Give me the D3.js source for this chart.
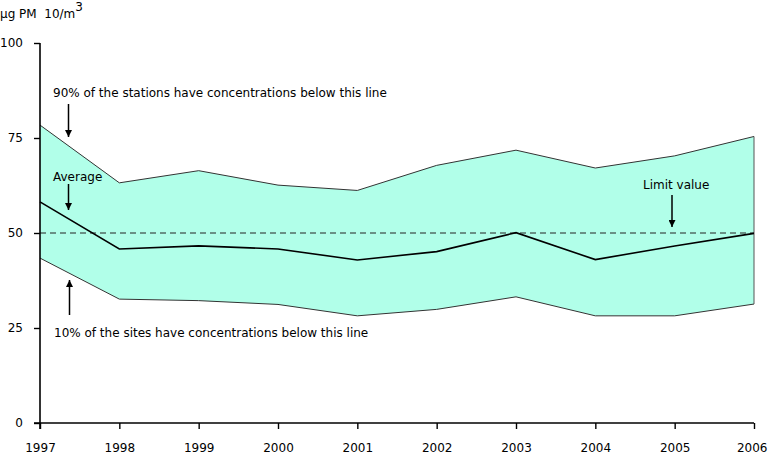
<!DOCTYPE html>
<html>
<head>
<meta charset="utf-8">
<script src="https://cdn.jsdelivr.net/npm/d3@7"></script>
<style>
  html, body { margin: 0; padding: 0; background: #fff; }
  svg { display: block; }
  text { font-family: "DejaVu Sans", Verdana, sans-serif; font-size: 12px; fill: #000; }
</style>
</head>
<body>
<svg id="chart" width="768" height="456"></svg>
<script>
const years = [1997, 1998, 1999, 2000, 2001, 2002, 2003, 2004, 2005, 2006];
const p90 = [78.4, 63.2, 66.4, 62.6, 61.2, 67.8, 71.8, 67.1, 70.3, 75.4];
const average = [58.2, 45.8, 46.6, 45.8, 42.9, 45.1, 50.1, 43.0, 46.6, 49.9];
const p10 = [43.4, 32.6, 32.2, 31.2, 28.2, 29.9, 33.2, 28.2, 28.2, 31.3];
const limitValue = 50;
const yTicks = [0, 25, 50, 75, 100];
const yAxisTitle = "µg PM  10/m";

const svg = d3.select("#chart");
const x = d3.scaleLinear().domain([1997, 2006]).range([40, 754]);
const y = d3.scaleLinear().domain([0, 100]).range([423, 43]);

const rows = years.map((yr, i) => ({ yr, hi: p90[i], avg: average[i], lo: p10[i] }));

// band
svg.append("path")
  .datum(rows)
  .attr("fill", "#b1ffe9")
  .attr("d", d3.area().x(d => x(d.yr)).y0(d => y(d.lo)).y1(d => y(d.hi)));

const line = d3.line().x(d => x(d[0])).y(d => y(d[1]));
svg.append("path").datum(rows.map(d => [d.yr, d.hi]))
  .attr("fill", "none").attr("stroke", "#333").attr("stroke-width", 1).attr("d", line);
svg.append("path").datum(rows.map(d => [d.yr, d.lo]))
  .attr("fill", "none").attr("stroke", "#333").attr("stroke-width", 1).attr("d", line);
const last = rows[rows.length - 1];
svg.append("line")
  .attr("x1", x(last.yr)).attr("x2", x(last.yr))
  .attr("y1", y(last.hi)).attr("y2", y(last.lo))
  .attr("stroke", "#555").attr("stroke-width", 1);

// limit dashed line
svg.append("line")
  .attr("x1", x(1997)).attr("x2", x(2006))
  .attr("y1", y(limitValue)).attr("y2", y(limitValue))
  .attr("stroke", "#222").attr("stroke-width", 1).attr("stroke-dasharray", "6,4");

// average line
svg.append("path").datum(rows.map(d => [d.yr, d.avg]))
  .attr("fill", "none").attr("stroke", "#000").attr("stroke-width", 1.6).attr("d", line);

// axes
const yAxis = d3.axisLeft(y).tickValues(yTicks).tickSize(6).tickPadding(12);
const gy = svg.append("g").attr("transform", "translate(40,0)").call(yAxis);
gy.select(".domain").attr("stroke-width", 1.6).attr("d", "M0,43V429");
gy.selectAll(".tick line").attr("stroke-width", 1.4);
gy.selectAll(".tick text").attr("font-size", 12).attr("font-family", "DejaVu Sans, Verdana, sans-serif").attr("x", -17);

const xAxis = d3.axisBottom(x).tickValues(years).tickFormat(d3.format("d")).tickSize(6);
const gx = svg.append("g").attr("transform", "translate(0,423)").call(xAxis);
gx.select(".domain").attr("stroke-width", 1.6).attr("d", "M34,0H754");
gx.selectAll(".tick line").attr("stroke-width", 1.4);
gx.selectAll(".tick text").attr("font-size", 12).attr("font-family", "DejaVu Sans, Verdana, sans-serif")
  .attr("y", 29).attr("dy", 0);
gx.selectAll(".tick").filter(d => d === years[years.length - 1]).select("text")
  .attr("text-anchor", "end").attr("x", 13);

// y title
const t = svg.append("text").attr("x", 0).attr("y", 18).attr("font-size", 11.5)
  .style("white-space", "pre").attr("xml:space", "preserve").text(yAxisTitle);
t.append("tspan").attr("dy", -7).attr("font-size", 12).text("3");

// annotations
svg.append("defs").append("marker")
  .attr("id", "ah").attr("viewBox", "0 0 10 10").attr("refX", 10).attr("refY", 5)
  .attr("markerWidth", 7).attr("markerHeight", 7).attr("markerUnits", "userSpaceOnUse")
  .attr("orient", "auto")
  .append("path").attr("d", "M0,0L10,5L0,10z").attr("fill", "#000");

function arrow(x0, y0, y1) {
  svg.append("line").attr("x1", x0).attr("x2", x0).attr("y1", y0).attr("y2", y1)
    .attr("stroke", "#000").attr("stroke-width", 1.5).attr("marker-end", "url(#ah)");
}
svg.append("text").attr("x", 53).attr("y", 97).text("90% of the stations have concentrations below this line");
arrow(68.5, 104, 137);
svg.append("text").attr("x", 53).attr("y", 181).text("Average");
arrow(68.5, 184, 210);
svg.append("text").attr("x", 54).attr("y", 337).text("10% of the sites have concentrations below this line");
arrow(69.5, 315, 280);
svg.append("text").attr("x", 643).attr("y", 189).text("Limit value");
arrow(672, 195, 227);
</script>
</body>
</html>
